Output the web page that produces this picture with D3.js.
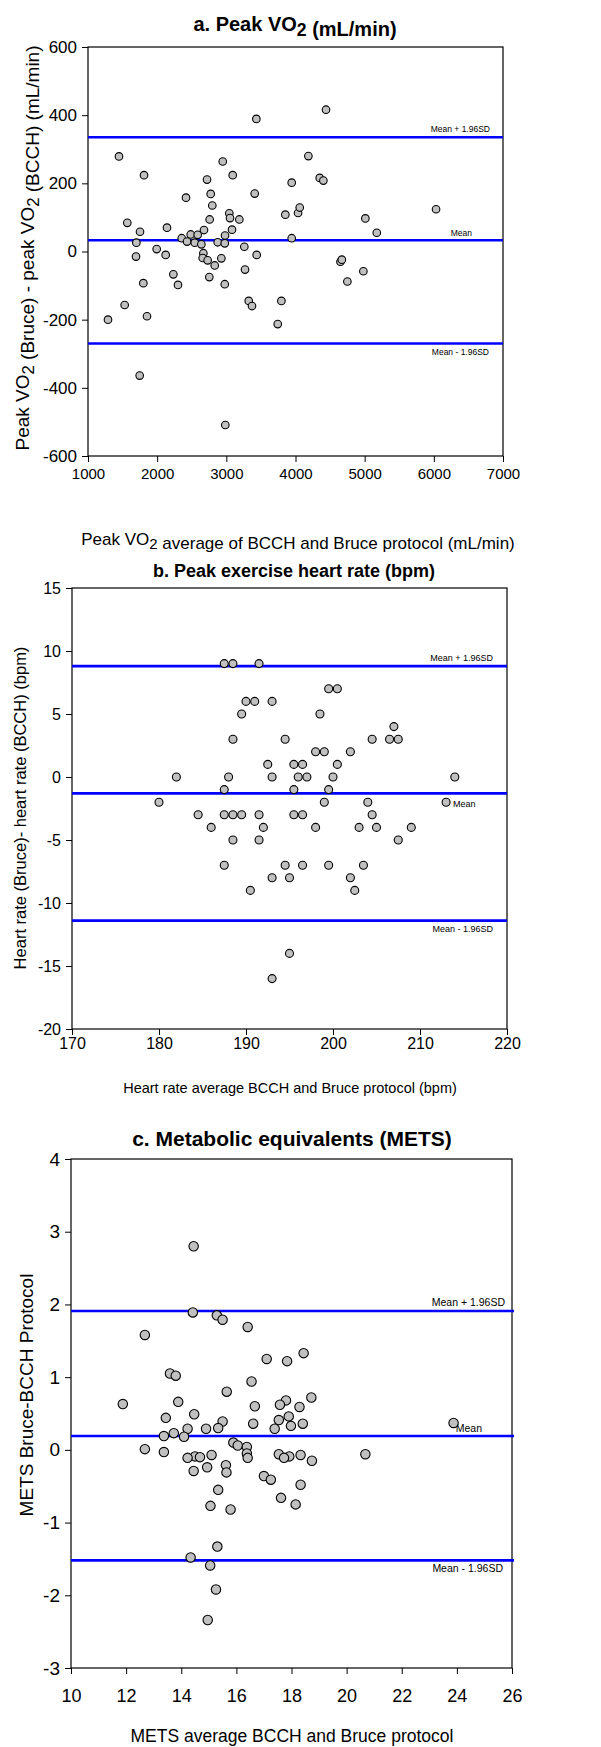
<!DOCTYPE html>
<html>
<head>
<meta charset="utf-8">
<script src="https://cdn.jsdelivr.net/npm/d3@7/dist/d3.min.js"></script>
<style>
  body { margin: 0; background: #fff; }
  text { font-family: "Liberation Sans", Arial, sans-serif; fill: #000; }
</style>
</head>
<body>
<svg id="chart" width="601" height="1747"></svg>
<script>
// ---- panel a: peak VO2 ----
var vo2Avg = [1448, 1810, 3434, 4441, 2948, 2721, 3092, 4186, 4350, 4403, 3945, 2417, 2774, 3410,
  2797, 1568, 2142, 1752, 1699, 1694, 1993, 2123, 1800, 2234, 2301, 1530, 1289, 1853, 1747,
  2355, 2432, 2485, 2543, 2586, 2639, 2677, 2759, 2668, 2658, 2730, 2832, 2754, 2875, 2928,
  2981, 2977, 2977, 3043, 3053, 3082, 3188, 3260, 3270, 3439, 3324, 3371, 3743, 3796, 3853,
  3945, 4037, 4061, 4650, 4670, 4750, 4981, 5010, 5175, 6032, 2985];
var vo2Diff = [279, 224, 389, 416, 264, 211, 224, 280, 216, 208, 202, 158, 169, 170,
  135, 84, 70, 58, 26, -15, 7, -10, -93, -67, -98, -157, -200, -190, -364,
  39, 29, 50, 26, 49, 21, 63, 94, -5, -19, -26, -41, -75, 27, -20,
  47, 24, -96, 112, 98, 64, 94, 14, -53, -10, -145, -160, -213, -145, 108,
  39, 113, 129, -30, -24, -88, -58, 97, 55, 124, -509];
var vo2Lines = [335, 33, -270];
var vo2XTicks = [1000, 2000, 3000, 4000, 5000, 6000, 7000];
var vo2YTicks = [-600, -400, -200, 0, 200, 400, 600];

// ---- panel b: heart rate ----
var hrAvg = [187.5, 188.5, 191.5, 199.5, 200.5, 190, 191, 193, 189.5, 198.5, 207,
  188.5, 194.5, 204.5, 206.5, 207.5, 198, 199, 202, 192.5, 195.5, 196.5, 200.5,
  182, 188, 193, 196, 197, 200, 214, 187.5, 195.5, 199.5, 180, 199, 204, 213,
  184.5, 187.5, 188.5, 189.5, 191.5, 195.5, 196.5, 204.5, 186, 192, 198, 203, 205, 209,
  188.5, 191.5, 207.5, 187.5, 194.5, 196.5, 199.5, 203.5, 193, 195, 202, 190.5, 202.5,
  195, 193];
var hrDiff = [9, 9, 9, 7, 7, 6, 6, 6, 5, 5, 4,
  3, 3, 3, 3, 3, 2, 2, 2, 1, 1, 1, 1,
  0, 0, 0, 0, 0, 0, 0, -1, -1, -1, -2, -2, -2, -2,
  -3, -3, -3, -3, -3, -3, -3, -3, -4, -4, -4, -4, -4, -4,
  -5, -5, -5, -7, -7, -7, -7, -7, -8, -8, -8, -9, -9,
  -14, -16];
var hrLines = [8.8, -1.3, -11.4];
var hrXTicks = [170, 180, 190, 200, 210, 220];
var hrYTicks = [-20, -15, -10, -5, 0, 5, 10, 15];

// ---- panel c: METS ----
var metsAvg = [14.45, 14.42, 15.29, 15.50, 16.41, 12.68, 18.44, 17.10, 17.84, 13.59, 13.80,
  16.55, 15.65, 11.88, 13.89, 18.72, 17.80, 17.58, 18.29, 16.67, 14.47, 13.44, 17.90,
  15.50, 17.54, 16.61, 18.41, 17.98, 14.23, 14.90, 15.34, 17.39, 23.88, 13.37, 13.73,
  14.10, 15.89, 16.05, 16.38, 12.68, 13.37, 16.38, 20.68, 17.54, 18.33, 15.10, 14.50,
  14.68, 14.23, 17.92, 17.73, 16.41, 18.74, 15.62, 14.94, 14.45, 15.64, 17.00, 17.25,
  18.33, 15.34, 17.62, 18.15, 15.06, 15.79, 15.31, 14.34, 15.05, 15.26, 14.96];
var metsDiff = [2.80, 1.89, 1.85, 1.79, 1.69, 1.58, 1.33, 1.25, 1.22, 1.05, 1.02,
  0.94, 0.80, 0.63, 0.66, 0.72, 0.68, 0.62, 0.59, 0.60, 0.49, 0.44, 0.46,
  0.39, 0.41, 0.36, 0.36, 0.33, 0.29, 0.29, 0.30, 0.29, 0.37, 0.19, 0.23,
  0.18, 0.10, 0.06, 0.04, 0.01, -0.03, -0.05, -0.06, -0.06, -0.07, -0.07, -0.09,
  -0.10, -0.11, -0.09, -0.11, -0.11, -0.15, -0.21, -0.24, -0.29, -0.31, -0.36, -0.41,
  -0.48, -0.55, -0.66, -0.75, -0.77, -0.82, -1.33, -1.48, -1.59, -1.92, -2.34];
var metsLines = [1.91, 0.19, -1.52];
var metsXTicks = [10, 12, 14, 16, 18, 20, 22, 24, 26];
var metsYTicks = [-3, -2, -1, 0, 1, 2, 3, 4];

var lineLabels = ["Mean + 1.96SD", "Mean", "Mean - 1.96SD"];

var svg = d3.select("#chart");

// plain numbers with an ascii hyphen, as in the original figure
function plainTick(d) { return String(d); }

// write text that may hold "VO2" with a subscript 2
function richText(sel, parts) {
  parts.forEach(function(p) {
    if (p.sub) {
      sel.append("tspan").attr("dy", "0.3em").style("font-size", "88%").text(p.sub);
      sel.append("tspan").attr("dy", "-0.3em").text("");
    } else {
      sel.append("tspan").text(p.t);
    }
  });
}

function drawPanel(p) {
  var x = d3.scaleLinear().domain(p.xDomain).range([p.left, p.right]);
  var y = d3.scaleLinear().domain(p.yDomain).range([p.bottom, p.top]);
  var g = svg.append("g");

  // title
  var title = g.append("text")
    .attr("x", p.titleX).attr("y", p.titleY)
    .attr("text-anchor", "middle")
    .style("font-weight", "bold")
    .style("font-size", p.titleSize + "px");
  richText(title, p.title);

  // axes
  var yAxis = g.append("g")
    .attr("transform", "translate(" + p.left + ",0)")
    .call(d3.axisLeft(y).tickValues(p.yTicks).tickFormat(plainTick)
      .tickSize(6).tickSizeOuter(0).tickPadding(5));
  yAxis.selectAll("text").style("font-size", p.yTickSize + "px")
    .style("font-family", "Liberation Sans, Arial, sans-serif");

  var xAxis = g.append("g")
    .attr("transform", "translate(0," + p.bottom + ")")
    .call(d3.axisBottom(x).tickValues(p.xTicks).tickFormat(plainTick)
      .tickSize(6).tickSizeOuter(0).tickPadding(p.xPad));
  xAxis.selectAll("text").style("font-size", p.xTickSize + "px")
    .style("font-family", "Liberation Sans, Arial, sans-serif");

  g.selectAll(".domain").remove();
  g.selectAll(".tick line").attr("stroke", "#000");

  // frame
  g.append("rect")
    .attr("x", p.left).attr("y", p.top)
    .attr("width", p.right - p.left).attr("height", p.bottom - p.top)
    .attr("fill", "none").attr("stroke", "#000").attr("stroke-width", 1.2);

  // mean / limits of agreement
  g.selectAll(".loa")
    .data(p.lines)
    .enter()
    .append("line")
      .attr("x1", p.left).attr("x2", p.right + p.lineExtra)
      .attr("y1", function(d){ return y(d); })
      .attr("y2", function(d){ return y(d); })
      .attr("stroke", "#0000ff")
      .attr("stroke-width", 2.6);

  g.selectAll(".loa-label")
    .data(p.lines)
    .enter()
    .append("text")
      .attr("x", function(d, i){ return p.labelX[i]; })
      .attr("y", function(d, i){ return y(d) + p.labelDy[i]; })
      .attr("text-anchor", function(d, i){ return p.labelAnchor[i]; })
      .style("font-size", p.labelSize + "px")
      .text(function(d, i){ return lineLabels[i]; });

  // points
  g.selectAll(".pt")
    .data(p.xs)
    .enter()
    .append("circle")
      .attr("cx", function(d){ return x(d); })
      .attr("cy", function(d, i){ return y(p.ys[i]); })
      .attr("r", p.r)
      .attr("fill", "#c0c0c0")
      .attr("stroke", "#000")
      .attr("stroke-width", 1.1);

  // axis titles
  var xl = g.append("text")
    .attr("x", p.xLabelX).attr("y", p.xLabelY)
    .attr("text-anchor", "middle")
    .style("font-size", p.xLabelSize + "px");
  richText(xl, p.xLabel);

  var yl = g.append("text")
    .attr("transform", "translate(" + p.yLabelX + "," + p.yLabelY + ") rotate(-90)")
    .attr("text-anchor", "middle")
    .style("font-size", p.yLabelSize + "px");
  richText(yl, p.yLabel);
}

drawPanel({
  xs: vo2Avg, ys: vo2Diff, lines: vo2Lines, xTicks: vo2XTicks, yTicks: vo2YTicks,
  xDomain: [1000, 7000], yDomain: [-600, 600],
  left: 88, right: 503, top: 47, bottom: 456, r: 3.8, lineExtra: 0,
  title: [{t: "a. Peak VO"}, {sub: "2"}, {t: " (mL/min)"}], titleX: 295, titleY: 31, titleSize: 20,
  yTickSize: 17, xTickSize: 15, xPad: 6,
  xLabel: [{t: "Peak VO"}, {sub: "2"}, {t: " average of BCCH and Bruce protocol (mL/min)"}],
  xLabelX: 298, xLabelY: 545, xLabelSize: 17,
  yLabel: [{t: "Peak VO"}, {sub: "2"}, {t: " (Bruce) - peak VO"}, {sub: "2"}, {t: " (BCCH) (mL/min)"}],
  yLabelX: 29, yLabelY: 248, yLabelSize: 19,
  labelX: [490, 472, 489], labelDy: [-5, -4, 11], labelAnchor: ["end", "end", "end"], labelSize: 8.5
});

drawPanel({
  xs: hrAvg, ys: hrDiff, lines: hrLines, xTicks: hrXTicks, yTicks: hrYTicks,
  xDomain: [170, 220], yDomain: [-20, 15],
  left: 72, right: 507, top: 588, bottom: 1029, r: 4, lineExtra: 0,
  title: [{t: "b. Peak exercise heart rate (bpm)"}], titleX: 294, titleY: 577, titleSize: 18,
  yTickSize: 16, xTickSize: 16, xPad: 3,
  xLabel: [{t: "Heart rate average BCCH and Bruce protocol (bpm)"}],
  xLabelX: 290, xLabelY: 1093, xLabelSize: 14.5,
  yLabel: [{t: "Heart rate (Bruce)- heart rate (BCCH) (bpm)"}],
  yLabelX: 26, yLabelY: 808, yLabelSize: 16.5,
  labelX: [493, 453, 493], labelDy: [-5, 14, 11], labelAnchor: ["end", "start", "end"], labelSize: 9
});

drawPanel({
  xs: metsAvg, ys: metsDiff, lines: metsLines, xTicks: metsXTicks, yTicks: metsYTicks,
  xDomain: [10, 26], yDomain: [-3, 4],
  left: 71, right: 512, top: 1159, bottom: 1668, r: 4.7, lineExtra: 2,
  title: [{t: "c. Metabolic equivalents (METS)"}], titleX: 292, titleY: 1146, titleSize: 21,
  yTickSize: 19, xTickSize: 18, xPad: 15,
  xLabel: [{t: "METS average BCCH and Bruce protocol"}],
  xLabelX: 292, xLabelY: 1742, xLabelSize: 17.5,
  yLabel: [{t: "METS Bruce-BCCH Protocol"}],
  yLabelX: 33, yLabelY: 1395, yLabelSize: 19,
  labelX: [505, 482, 503], labelDy: [-5, -4, 12], labelAnchor: ["end", "end", "end"], labelSize: 10.5
});
</script>
</body>
</html>
